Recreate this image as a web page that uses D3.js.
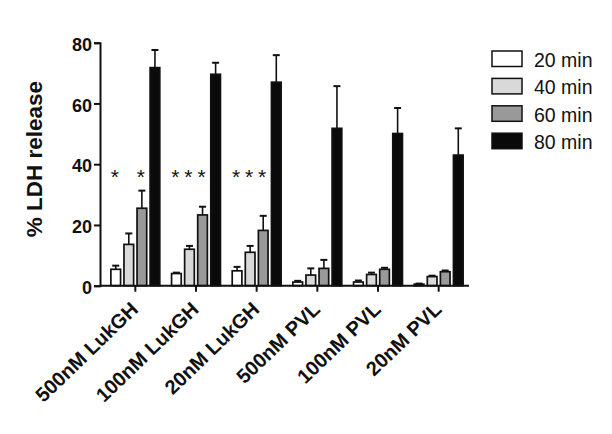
<!DOCTYPE html>
<html>
<head>
<meta charset="utf-8">
<script src="https://cdn.jsdelivr.net/npm/d3@7"></script>
<style>
  body { margin: 0; background: #fff; }
  svg { font-family: "Liberation Sans", Arial, sans-serif; }
</style>
</head>
<body>
<div id="chart"></div>
<script>
// data
const categories = ["500nM LukGH", "100nM LukGH", "20nM LukGH", "500nM PVL", "100nM PVL", "20nM PVL"];
const seriesNames = ["20 min", "40 min", "60 min", "80 min"];
const seriesColors = ["#ffffff", "#d9d9d9", "#999999", "#0a0a0a"];
const min20 = [5.4, 4.0, 4.9, 1.2, 1.2, 0.5];
const min40 = [13.6, 12.0, 11.0, 3.5, 3.7, 3.0];
const min60 = [25.5, 23.3, 18.2, 5.7, 5.4, 4.6];
const min80 = [71.8, 69.6, 67.0, 51.8, 50.1, 43.0];
const err20 = [1.2, 0.3, 1.3, 0.4, 0.5, 0.2];
const err40 = [3.6, 1.1, 2.1, 2.2, 0.6, 0.3];
const err60 = [5.8, 2.7, 4.8, 2.8, 0.5, 0.4];
const err80 = [5.8, 3.8, 8.9, 13.9, 8.4, 8.8];
// which bars carry a significance star (per group, per series)
const stars = [[1, 0, 1, 0], [1, 1, 1, 0], [1, 1, 1, 0], [0, 0, 0, 0], [0, 0, 0, 0], [0, 0, 0, 0]];
const starLevel = 37;
const yTicks = [0, 20, 40, 60, 80];

const values = [min20, min40, min60, min80];
const errors = [err20, err40, err60, err80];

const W = 612, H = 434;
const svg = d3.select("#chart").append("svg")
  .attr("width", W)
  .attr("height", H);

// scales
const x0 = d3.scaleBand()
  .domain(categories)
  .range([105, 469])
  .padding(0);
const x1 = d3.scaleBand()
  .domain(seriesNames)
  .range([0, x0.bandwidth()])
  .paddingInner(0.26)
  .paddingOuter(0.45);
const y = d3.scaleLinear()
  .domain([0, 80])
  .range([285.7, 42.7]);

// flatten into bar records
const bars = [];
categories.forEach((c, i) => {
  seriesNames.forEach((s, j) => {
    bars.push({cat: c, series: s, j: j, value: values[j][i], err: errors[j][i], star: stars[i][j]});
  });
});

// error bars (upper only), drawn under the bars
const eb = svg.append("g").attr("stroke", "#111").attr("stroke-width", 1.6);
bars.forEach(d => {
  const cx = x0(d.cat) + x1(d.series) + x1.bandwidth() / 2;
  eb.append("line")
    .attr("x1", cx).attr("x2", cx)
    .attr("y1", y(d.value)).attr("y2", y(d.value + d.err));
  eb.append("line")
    .attr("x1", cx - 3.5).attr("x2", cx + 3.5)
    .attr("y1", y(d.value + d.err)).attr("y2", y(d.value + d.err))
    .attr("stroke-width", 2);
});

// bars
svg.append("g")
  .selectAll("rect")
  .data(bars)
  .join("rect")
  .attr("x", d => x0(d.cat) + x1(d.series))
  .attr("y", d => y(d.value))
  .attr("width", x1.bandwidth())
  .attr("height", d => y(0) - y(d.value))
  .attr("fill", d => seriesColors[d.j])
  .attr("stroke", "#111")
  .attr("stroke-width", 1.7);

// stars
svg.append("g")
  .selectAll("text")
  .data(bars.filter(d => d.star))
  .join("text")
  .attr("x", d => x0(d.cat) + x1(d.series) + x1.bandwidth() / 2 - 1)
  .attr("y", y(starLevel) + 11)
  .attr("text-anchor", "middle")
  .style("font-size", "21px")
  .style("fill", "#111")
  .text("*");

// y axis
const yAxis = svg.append("g")
  .attr("transform", "translate(100,0)")
  .call(d3.axisLeft(y).tickValues(yTicks).tickSize(6).tickPadding(2));
yAxis.select(".domain").attr("stroke", "#111").attr("stroke-width", 2);
yAxis.selectAll(".tick line").attr("stroke", "#111").attr("stroke-width", 2);
yAxis.selectAll(".tick text")
  .style("font-size", "18px")
  .style("font-weight", "bold")
  .style("fill", "#111")
  .attr("dy", "0.42em");

// x axis
const xAxis = svg.append("g")
  .attr("transform", `translate(0,${y(0)})`)
  .call(d3.axisBottom(x0).tickSize(6).tickSizeOuter(0).tickPadding(4));
xAxis.select(".domain").attr("stroke", "#111").attr("stroke-width", 2)
  .attr("d", `M100,0H469`);
xAxis.selectAll(".tick line").attr("stroke", "#111").attr("stroke-width", 2);
xAxis.selectAll(".tick text")
  .style("font-size", "20px")
  .style("font-weight", "bold")
  .style("fill", "#111")
  .attr("text-anchor", "end")
  .attr("dy", 0)
  .attr("transform", "translate(4,25) rotate(-44)")
  .attr("y", 0)
  .attr("x", 0);

// y axis title
svg.append("text")
  .attr("transform", `translate(42,${(y(0) + y(80)) / 2 - 5}) rotate(-90)`)
  .attr("text-anchor", "middle")
  .style("font-size", "22.5px")
  .style("font-weight", "bold")
  .style("fill", "#111")
  .text("% LDH release");

// legend
const legend = svg.append("g").attr("transform", "translate(492,51)");
seriesNames.forEach((s, j) => {
  const g = legend.append("g").attr("transform", `translate(0,${j * 27.4})`);
  g.append("rect")
    .attr("width", 30).attr("height", 15.5)
    .attr("fill", seriesColors[j])
    .attr("stroke", "#111").attr("stroke-width", 1.5);
  g.append("text")
    .attr("x", 42).attr("y", 9).attr("dy", "0.35em")
    .style("font-size", "19.5px")
    .style("fill", "#111")
    .text(s);
});
</script>
</body>
</html>
